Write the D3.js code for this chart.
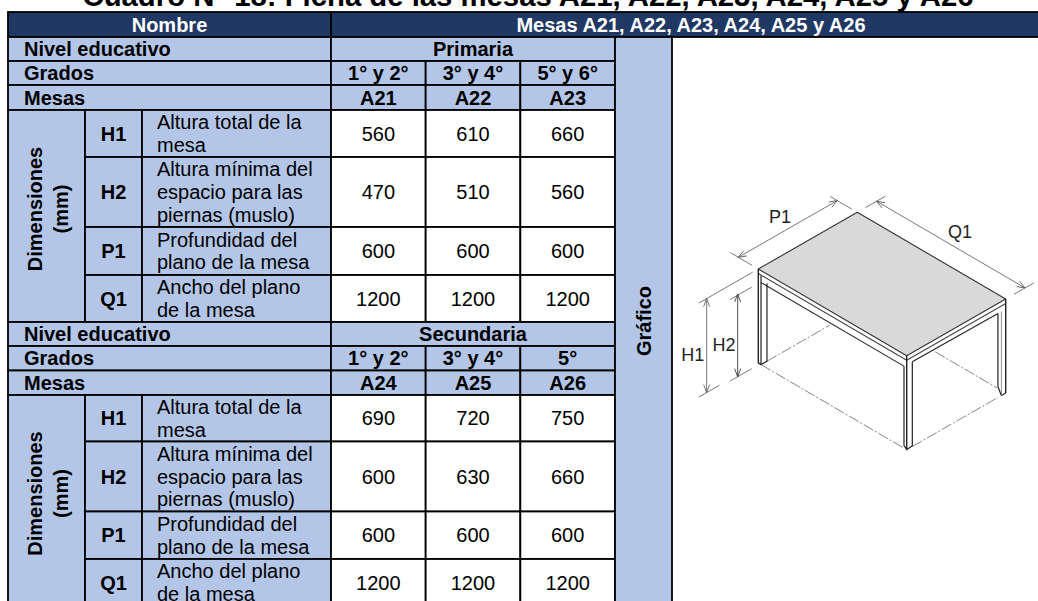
<!DOCTYPE html>
<html>
<head>
<meta charset="utf-8">
<title>Cuadro de las mesas</title>
<style>
  html, body { margin: 0; padding: 0; background: #fff; overflow: hidden; }
  svg { display: block; font-family: "Liberation Sans", Arial, sans-serif; }
</style>
</head>
<body>
<svg id="viz"></svg>
<script src="https://cdn.jsdelivr.net/npm/d3@7"></script>
<script>
// table content
var titulo = "Cuadro N° 18: Ficha de las mesas A21, A22, A23, A24, A25 y A26";
var nombre = "Mesas A21, A22, A23, A24, A25 y A26";
var niveles = ["Primaria", "Secundaria"];
var grados = [["1° y 2°", "3° y 4°", "5° y 6°"], ["1° y 2°", "3° y 4°", "5°"]];
var mesas = [["A21", "A22", "A23"], ["A24", "A25", "A26"]];
var codigos = ["H1", "H2", "P1", "Q1"];
var descripciones = [
  ["Altura total de la", "mesa"],
  ["Altura mínima del", "espacio para las", "piernas (muslo)"],
  ["Profundidad del", "plano de la mesa"],
  ["Ancho del plano", "de la mesa"]
];
var valoresPrimaria = [[560, 610, 660], [470, 510, 560], [600, 600, 600], [1200, 1200, 1200]];
var valoresSecundaria = [[690, 720, 750], [600, 630, 660], [600, 600, 600], [1200, 1200, 1200]];

// layout
var width = 1038, height = 601;
var light = "#b4c6e7", dark = "#1f3864";
var fontSize = 20;
var colX = [8, 85, 142, 331];
var valueX = d3.scaleBand().domain([0, 1, 2]).range([331, 615]);
var graficoX = [615, 672];
var headerY = [12, 37];
// row tops of each block, filas: nivel, grados, mesas, H1, H2, P1, Q1, end
var blockY = [
  [37, 61, 85, 110, 157, 227, 275, 322],
  [322, 346, 370.5, 395, 441.5, 511.5, 559, 606]
];

var svg = d3.select("#viz").attr("width", width).attr("height", height);

function cell(x0, x1, y0, y1, fill) {
  svg.append("rect")
    .attr("x", x0).attr("y", y0)
    .attr("width", x1 - x0).attr("height", y1 - y0)
    .attr("fill", fill).attr("stroke", "#000").attr("stroke-width", 1.8);
}

function label(x, y, str, bold, size, anchor, color) {
  return svg.append("text")
    .attr("x", x).attr("y", y)
    .attr("dy", "0.35em")
    .attr("text-anchor", anchor || "middle")
    .attr("font-weight", bold ? "bold" : "normal")
    .attr("font-size", size || fontSize)
    .attr("fill", color || "#000")
    .text(str);
}

svg.append("text")
  .attr("x", 528).attr("y", 6)
  .attr("text-anchor", "middle")
  .attr("font-weight", "bold")
  .attr("font-size", 29.3)
  .attr("fill", "#000")
  .text(titulo);

// header band
cell(colX[0], colX[3], headerY[0], headerY[1], dark);
cell(colX[3], width + 4, headerY[0], headerY[1], dark);
label((colX[0] + colX[3]) / 2, 24.5, "Nombre", true, fontSize, "middle", "#fff");
label(691, 24.5, nombre, true, fontSize, "middle", "#fff");

// the two level blocks
niveles.forEach(function(nivel, b) {
  var ys = blockY[b];
  var valores = b == 0 ? valoresPrimaria : valoresSecundaria;
  var textX = colX[0] + 16;
  function mid(i) { return (ys[i] + ys[i + 1]) / 2; }

  ["Nivel educativo", "Grados", "Mesas"].forEach(function(t, i) {
    cell(colX[0], colX[3], ys[i], ys[i + 1], light);
    label(textX, mid(i), t, true, fontSize, "start");
  });

  cell(colX[3], valueX.range()[1], ys[0], ys[1], light);
  label((colX[3] + valueX.range()[1]) / 2, mid(0), nivel, true);

  d3.range(3).forEach(function(c) {
    var x0 = valueX(c), x1 = x0 + valueX.bandwidth(), xm = (x0 + x1) / 2;
    cell(x0, x1, ys[1], ys[2], light);
    label(xm, mid(1), grados[b][c], true);
    cell(x0, x1, ys[2], ys[3], light);
    label(xm, mid(2), mesas[b][c], true);
  });

  cell(colX[0], colX[1], ys[3], ys[7], light);

  codigos.forEach(function(code, r) {
    var y0 = ys[r + 3], y1 = ys[r + 4], ym = (y0 + y1) / 2;
    cell(colX[1], colX[2], y0, y1, light);
    label((colX[1] + colX[2]) / 2, ym, code, true);
    cell(colX[2], colX[3], y0, y1, light);
    var lines = descripciones[r];
    lines.forEach(function(t, i) {
      label(colX[2] + 15, ym + (i - (lines.length - 1) / 2) * 22.6, t, false, fontSize, "start");
    });
    d3.range(3).forEach(function(c) {
      var x0 = valueX(c);
      cell(x0, x0 + valueX.bandwidth(), y0, y1, "#fff");
      label(x0 + valueX.bandwidth() / 2, ym, valores[r][c], false);
    });
  });

  // rotated labels
  var cy = (ys[3] + ys[7]) / 2 - 7;
  [["Dimensiones", 35], ["(mm)", 61]].forEach(function(d) {
    svg.append("text")
      .attr("transform", "translate(" + d[1] + "," + cy + ") rotate(-90)")
      .attr("dy", "0.35em")
      .attr("text-anchor", "middle")
      .attr("font-weight", "bold")
      .attr("font-size", fontSize)
      .text(d[0]);
  });
});

// Grafico column
cell(graficoX[0], graficoX[1], headerY[1], height + 10, light);
svg.append("text")
  .attr("transform", "translate(643.5,321) rotate(-90)")
  .attr("dy", "0.35em")
  .attr("text-anchor", "middle")
  .attr("font-weight", "bold")
  .attr("font-size", fontSize)
  .text("Gráfico");

// ---- isometric drawing of the table, model units are mm ----
var P1 = valoresSecundaria[2][2], Q1 = valoresSecundaria[3][2];
var H1 = valoresSecundaria[0][2], H2 = valoresSecundaria[1][2];

var pxX = d3.scaleLinear().domain([0, 600]).range([0, 99]);
var pxY = d3.scaleLinear().domain([0, 600]).range([0, -56.7]);
var qxX = d3.scaleLinear().domain([0, 1200]).range([0, 148.4]);
var qxY = d3.scaleLinear().domain([0, 1200]).range([0, 86.7]);
var zxY = d3.scaleLinear().domain([0, 750]).range([0, 94]);

function iso(p, q, z) {
  return [758.3 + pxX(p) + qxX(q), 269 + pxY(p) + qxY(q) + zxY(z)];
}

var pathOf = d3.line();
var drawing = svg.append("g").attr("fill", "none").attr("stroke-linejoin", "round");

function draw(points, stroke, w, dash) {
  return drawing.append("path")
    .attr("d", pathOf(points.map(function(a) { return iso(a[0], a[1], a[2]); })))
    .attr("stroke", stroke)
    .attr("stroke-width", w)
    .attr("stroke-dasharray", dash || null);
}

var dash = "11,2,2,2";
// floor outline, dashed
draw([[0, 22, H1], [0, 1178, H1]], "#777", 0.9, dash);
draw([[34, Q1, H1], [553, Q1, H1]], "#777", 0.9, dash);
draw([[36, 22, H1], [417, 22, H1]], "#777", 0.9, dash);
draw([[P1, 630, H1], [P1, 1130, H1]], "#777", 0.9, dash);

// top
drawing.append("path")
  .attr("d", pathOf([[0, 0, 0], [P1, 0, 0], [P1, Q1, 0], [0, Q1, 0]].map(function(a) { return iso(a[0], a[1], a[2]); })) + "Z")
  .attr("fill", "#d9d9d9")
  .attr("stroke", "#333")
  .attr("stroke-width", 1.1);

// plate edge
var ink = "#222";
draw([[0, 0, 36], [0, Q1, 36], [P1, Q1, 36]], "#444", 1.1);
draw([[0, 0, 0], [0, 0, H1], [0, 22, H1]], ink, 1.4);
draw([[0, Q1, 0], [0, Q1, H1]], ink, 1.4);
draw([[P1, Q1, 0], [P1, Q1, H1]], ink, 1.4);

// skirt, lower edges
draw([[0, 22, 96], [0, 1178, 96]], ink, 1.1);
draw([[34, Q1, 74], [553, Q1, 80]], ink, 1.1);

// left leg
draw([[0, 22, 40], [0, 22, H1], [36, 22, H1], [36, 22, 130]], ink, 1.2);
// front leg
draw([[0, 1178, 96], [0, 1178, 728], [0, Q1, H1], [34, Q1, 745], [34, Q1, 74]], ink, 1.2);
// right leg
draw([[553, Q1, 80], [553, Q1, 665], [574, Q1, H1], [P1, Q1, H1]], ink, 1.2);
draw([[574, Q1, 80], [574, Q1, H1]], "#777", 0.8);

// dimension lines
var defs = svg.append("defs");
["arrowGray", "arrowDark"].forEach(function(id, i) {
  defs.append("marker")
    .attr("id", id)
    .attr("viewBox", "-9 -5 10 10")
    .attr("refX", 0).attr("refY", 0)
    .attr("markerWidth", 10).attr("markerHeight", 10)
    .attr("markerUnits", "userSpaceOnUse")
    .attr("orient", "auto-start-reverse")
    .append("path")
    .attr("d", "M-8,-3L0,0L-8,3")
    .attr("fill", "none")
    .attr("stroke", i == 0 ? "#555" : "#222")
    .attr("stroke-width", 0.8);
});

function dimension(a, b, marker, stroke) {
  draw([a, b], stroke, 0.8)
    .attr("marker-start", "url(#" + marker + ")")
    .attr("marker-end", "url(#" + marker + ")");
}
var gray = "#555";

dimension([0, -162, 0], [P1, -162, 0], "arrowGray", gray);
draw([[0, -225, 0], [0, -50, 0]], gray, 0.8);
draw([[P1, -220, 0], [P1, -45, 0]], gray, 0.8);

dimension([717, 0, 0], [717, Q1, 0], "arrowGray", gray);
draw([[650, 0, 0], [770, 0, 0]], gray, 0.8);
draw([[650, Q1, 0], [770, Q1, 0]], gray, 0.8);

dimension([-313, 0, 0], [-313, 0, H1], "arrowGray", gray);
draw([[-360, 0, 0], [-35, 0, 0]], gray, 0.8);
draw([[-360, 0, H1], [-235, 0, H1]], gray, 0.8);

dimension([-125, 0, 105], [-125, 0, 105 + H2], "arrowDark", "#222");
draw([[-170, 0, 115], [-40, 0, 115]], gray, 0.8);
draw([[-170, 0, 765], [-40, 0, 765]], gray, 0.8);

label(780, 217, "P1", false, 18, "middle", "#222");
label(960, 231.7, "Q1", false, 18, "middle", "#222");
label(692.7, 355, "H1", false, 18, "middle", "#222");
label(724, 345, "H2", false, 18, "middle", "#222");
</script>
</body>
</html>
